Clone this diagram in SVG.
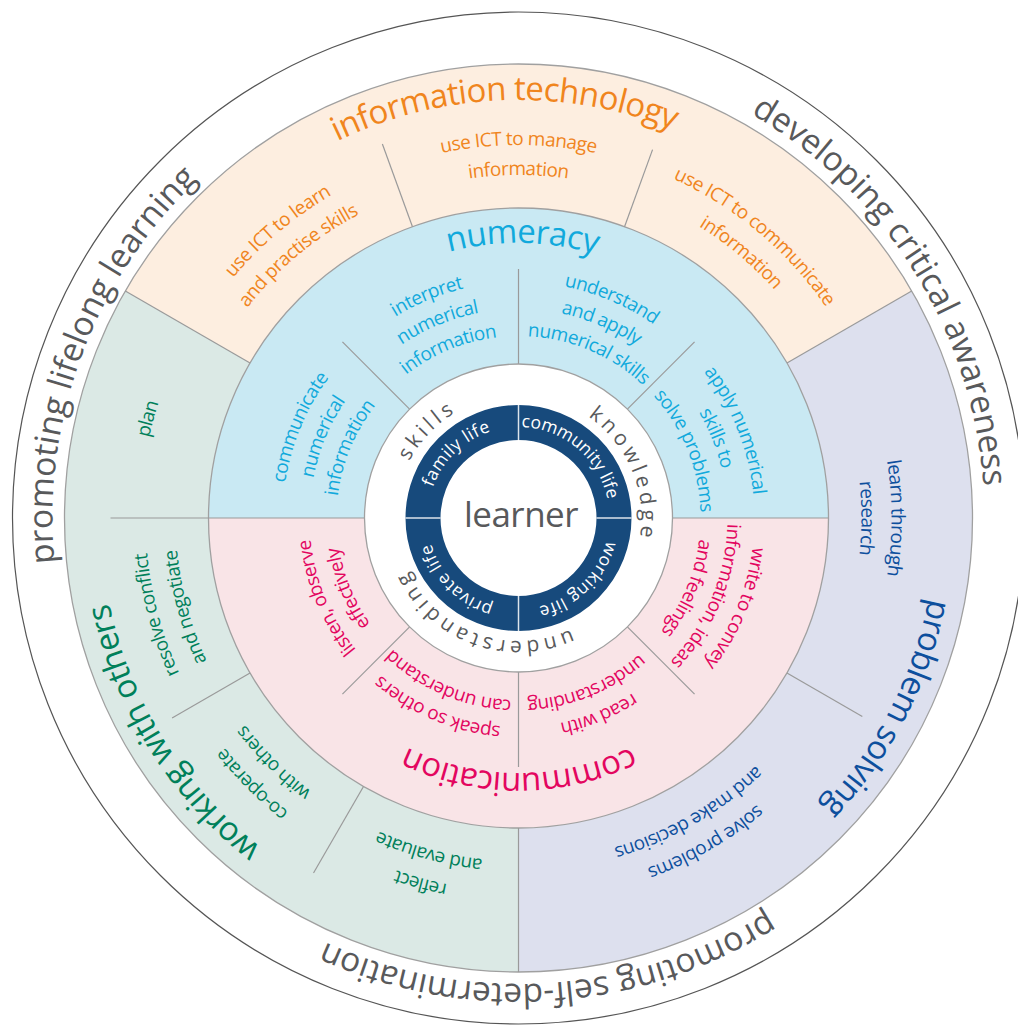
<svg xmlns="http://www.w3.org/2000/svg" width="1018" height="1025" viewBox="0 0 1018 1025">
<style>
text{font-family:"Open Sans","Noto Sans","DejaVu Sans",sans-serif;text-anchor:middle}
.outer{font-size:33.5px;fill:#58595b}
.title{font-size:33px;letter-spacing:-0.65px}
.lbl{font-size:19px;letter-spacing:-0.5px}
.ring{font-size:21px;fill:#58595b;letter-spacing:4px}
.life{font-size:17.5px;fill:#ffffff;letter-spacing:0.5px}
.or{fill:#f0851d}.cy{fill:#11a9dc}.mg{fill:#e3065f}.gr{fill:#00805a}.bl{fill:#0d4f9d}
.div line{stroke:#9a9a9a;stroke-width:1.2}
.edge{fill:none;stroke:#a0a0a0;stroke-width:1.3}
</style>
<defs>
<path id="c466" d="M0,466A466,466 0 1 1 0,-466A466,466 0 1 1 0,466"/>
<path id="c418" d="M0,418A418,418 0 1 1 0,-418A418,418 0 1 1 0,418"/>
<path id="c378" d="M0,378A378,378 0 1 1 0,-378A378,378 0 1 1 0,378"/>
<path id="c373" d="M0,373A373,373 0 1 1 0,-373A373,373 0 1 1 0,373"/>
<path id="c343" d="M0,343A343,343 0 1 1 0,-343A343,343 0 1 1 0,343"/>
<path id="c275" d="M0,275A275,275 0 1 1 0,-275A275,275 0 1 1 0,275"/>
<path id="c255" d="M0,255A255,255 0 1 1 0,-255A255,255 0 1 1 0,255"/>
<path id="c236" d="M0,236A236,236 0 1 1 0,-236A236,236 0 1 1 0,236"/>
<path id="c209" d="M0,209A209,209 0 1 1 0,-209A209,209 0 1 1 0,209"/>
<path id="c182" d="M0,182A182,182 0 1 1 0,-182A182,182 0 1 1 0,182"/>
<path id="c123" d="M0,123A123,123 0 1 1 0,-123A123,123 0 1 1 0,123"/>
<path id="c91" d="M0,91A91,91 0 1 1 0,-91A91,91 0 1 1 0,91"/>
</defs>
<rect width="1018" height="1025" fill="#ffffff"/>

<g id="outer-ring">
<circle cx="518.5" cy="518" r="506" fill="#ffffff" stroke="#555555" stroke-width="1.2"/>
<text class="outer" transform="translate(518.5 518) rotate(-69.5)"><textPath href="#c466" startOffset="50%">promoting lifelong learning</textPath></text>
<text class="outer" transform="translate(518.5 518) rotate(58)"><textPath href="#c466" startOffset="50%">developing critical awareness</textPath></text>
<text class="outer" transform="translate(518.5 518) rotate(-183.9)"><textPath href="#c466" startOffset="50%">promoting self-determination</textPath></text>
</g>

<g id="information-technology">
<path d="M911.68,291A454,454 0 0 0 125.32,291L250.03,363A310,310 0 0 1 786.97,363Z" fill="#fdeee0"/>
<text class="title or" transform="translate(518.5 518) rotate(-2)"><textPath href="#c418" startOffset="50%">information technology</textPath></text>
<text class="lbl or" transform="translate(518.5 518) rotate(-40)"><textPath href="#c373" startOffset="50%">use ICT to learn</textPath></text>
<text class="lbl or" transform="translate(518.5 518) rotate(-40)"><textPath href="#c343" startOffset="50%">and practise skills</textPath></text>
<text class="lbl or" transform="translate(518.5 518)"><textPath href="#c373" startOffset="50%">use ICT to manage</textPath></text>
<text class="lbl or" transform="translate(518.5 518)"><textPath href="#c343" startOffset="50%">information</textPath></text>
<text class="lbl or" transform="translate(518.5 518) rotate(40)"><textPath href="#c373" startOffset="50%">use ICT to communicate</textPath></text>
<text class="lbl or" transform="translate(518.5 518) rotate(40)"><textPath href="#c343" startOffset="50%">information</textPath></text>
</g>

<g id="working-with-others">
<path d="M125.32,291A454,454 0 0 0 518.5,972L518.5,828A310,310 0 0 1 250.03,363Z" fill="#dbe9e5"/>
<text class="title gr" transform="translate(518.5 518) rotate(-121.9)"><textPath href="#c418" startOffset="50%">working with others</textPath></text>
<text class="lbl gr" transform="translate(518.5 518) rotate(-75)"><textPath href="#c378" startOffset="50%">plan</textPath></text>
<text class="lbl gr" transform="translate(518.5 518) rotate(-105)"><textPath href="#c373" startOffset="50%">resolve conflict</textPath></text>
<text class="lbl gr" transform="translate(518.5 518) rotate(-105)"><textPath href="#c343" startOffset="50%">and negotiate</textPath></text>
<text class="lbl gr" transform="translate(518.5 518) rotate(-135)"><textPath href="#c373" startOffset="50%">co-operate</textPath></text>
<text class="lbl gr" transform="translate(518.5 518) rotate(-135)"><textPath href="#c343" startOffset="50%">with others</textPath></text>
<text class="lbl gr" transform="translate(518.5 518) rotate(-165)"><textPath href="#c373" startOffset="50%">reflect</textPath></text>
<text class="lbl gr" transform="translate(518.5 518) rotate(-165)"><textPath href="#c343" startOffset="50%">and evaluate</textPath></text>
</g>

<g id="problem-solving">
<path d="M518.5,972A454,454 0 0 0 911.68,291L786.97,363A310,310 0 0 1 518.5,828Z" fill="#dde0ee"/>
<text class="title bl" transform="translate(518.5 518) rotate(-242.7)"><textPath href="#c418" startOffset="50%">problem solving</textPath></text>
<text class="lbl bl" transform="translate(518.5 518) rotate(90)"><textPath href="#c373" startOffset="50%">learn through</textPath></text>
<text class="lbl bl" transform="translate(518.5 518) rotate(90)"><textPath href="#c343" startOffset="50%">research</textPath></text>
<text class="lbl bl" transform="translate(518.5 518) rotate(-210)"><textPath href="#c373" startOffset="50%">solve problems</textPath></text>
<text class="lbl bl" transform="translate(518.5 518) rotate(-210)"><textPath href="#c343" startOffset="50%">and make decisions</textPath></text>
</g>

<g id="numeracy">
<path d="M828.5,518A310,310 0 0 0 208.5,518L364.5,518A154,154 0 0 1 672.5,518Z" fill="#c9e9f3"/>
<text class="title cy" transform="translate(518.5 518) rotate(0.8)"><textPath href="#c275" startOffset="50%">numeracy</textPath></text>
<text class="lbl cy" transform="translate(518.5 518) rotate(-67.5)"><textPath href="#c236" startOffset="50%">communicate</textPath></text>
<text class="lbl cy" transform="translate(518.5 518) rotate(-67.5)"><textPath href="#c209" startOffset="50%">numerical</textPath></text>
<text class="lbl cy" transform="translate(518.5 518) rotate(-67.5)"><textPath href="#c182" startOffset="50%">information</textPath></text>
<text class="lbl cy" transform="translate(518.5 518) rotate(-22.5)"><textPath href="#c236" startOffset="50%">interpret</textPath></text>
<text class="lbl cy" transform="translate(518.5 518) rotate(-22.5)"><textPath href="#c209" startOffset="50%">numerical</textPath></text>
<text class="lbl cy" transform="translate(518.5 518) rotate(-22.5)"><textPath href="#c182" startOffset="50%">information</textPath></text>
<text class="lbl cy" transform="translate(518.5 518) rotate(23)"><textPath href="#c236" startOffset="50%">understand</textPath></text>
<text class="lbl cy" transform="translate(518.5 518) rotate(23)"><textPath href="#c209" startOffset="50%">and apply</textPath></text>
<text class="lbl cy" transform="translate(518.5 518) rotate(23)"><textPath href="#c182" startOffset="50%">numerical skills</textPath></text>
<text class="lbl cy" transform="translate(518.5 518) rotate(68)"><textPath href="#c236" startOffset="50%">apply numerical</textPath></text>
<text class="lbl cy" transform="translate(518.5 518) rotate(68)"><textPath href="#c209" startOffset="50%">skills to</textPath></text>
<text class="lbl cy" transform="translate(518.5 518) rotate(68)"><textPath href="#c182" startOffset="50%">solve problems</textPath></text>
</g>

<g id="communication">
<path d="M208.5,518A310,310 0 0 0 828.5,518L672.5,518A154,154 0 0 1 364.5,518Z" fill="#f9e4e7"/>
<text class="title mg" transform="translate(518.5 518) rotate(-180.2)"><textPath href="#c255" startOffset="50%">communication</textPath></text>
<text class="lbl mg" transform="translate(518.5 518) rotate(-112.5)"><textPath href="#c209" startOffset="50%">listen, observe</textPath></text>
<text class="lbl mg" transform="translate(518.5 518) rotate(-112.5)"><textPath href="#c182" startOffset="50%">effectively</textPath></text>
<text class="lbl mg" transform="translate(518.5 518) rotate(-157)"><textPath href="#c209" startOffset="50%">speak so others</textPath></text>
<text class="lbl mg" transform="translate(518.5 518) rotate(-157)"><textPath href="#c182" startOffset="50%">can understand</textPath></text>
<text class="lbl mg" transform="translate(518.5 518) rotate(-202.3)"><textPath href="#c209" startOffset="50%">read with</textPath></text>
<text class="lbl mg" transform="translate(518.5 518) rotate(-202.3)"><textPath href="#c182" startOffset="50%">understanding</textPath></text>
<text class="lbl mg" transform="translate(518.5 518) rotate(-247.5)"><textPath href="#c236" startOffset="50%">write to convey</textPath></text>
<text class="lbl mg" transform="translate(518.5 518) rotate(-247.5)"><textPath href="#c209" startOffset="50%">information, ideas</textPath></text>
<text class="lbl mg" transform="translate(518.5 518) rotate(-247.5)"><textPath href="#c182" startOffset="50%">and feelings</textPath></text>
</g>

<g id="edges">
<circle class="edge" cx="518.5" cy="518" r="454"/>
<circle class="edge" cx="518.5" cy="518" r="310"/>
</g>

<g id="connectors" class="div">
<line x1="786.97" y1="363" x2="911.68" y2="291"/>
<line x1="250.03" y1="363" x2="125.32" y2="291"/>
<line x1="518.5" y1="828" x2="518.5" y2="972"/>
<line x1="624.53" y1="226.7" x2="652.57" y2="149.64"/>
<line x1="412.47" y1="226.7" x2="382.38" y2="144"/>
<line x1="364.5" y1="518" x2="110.5" y2="518"/>
<line x1="250.03" y1="673" x2="172.09" y2="718"/>
<line x1="363.5" y1="786.47" x2="313.5" y2="873.07"/>
<line x1="786.97" y1="673" x2="862.31" y2="716.5"/>
<line x1="672.5" y1="518" x2="828.5" y2="518"/>
<line x1="627.39" y1="409.11" x2="694.57" y2="341.93"/>
<line x1="518.5" y1="364" x2="518.5" y2="269"/>
<line x1="409.61" y1="409.11" x2="342.43" y2="341.93"/>
<line x1="409.61" y1="626.89" x2="342.43" y2="694.07"/>
<line x1="518.5" y1="672" x2="518.5" y2="767"/>
<line x1="627.39" y1="626.89" x2="694.57" y2="694.07"/>
</g>

<g id="core-ring">
<circle cx="518.5" cy="518" r="154" fill="#ffffff" stroke="#a0a0a0" stroke-width="1.3"/>
<text class="ring" transform="translate(518.5 518) rotate(-46.1)"><textPath href="#c123" startOffset="50%">skills</textPath></text>
<text class="ring" transform="translate(518.5 518) rotate(67.5)"><textPath href="#c123" startOffset="50%">knowledge</textPath></text>
<text class="ring" transform="translate(518.5 518) rotate(-159.7)"><textPath href="#c123" startOffset="50%">understanding</textPath></text>
</g>

<g id="life-ring">
<circle cx="518.5" cy="518" r="95.5" fill="none" stroke="#174a7c" stroke-width="35"/>
<g stroke="#ffffff" stroke-width="1.5" opacity="0.85">
<line x1="596.5" y1="518" x2="631.5" y2="518"/>
<line x1="405.5" y1="518" x2="440.5" y2="518"/>
<line x1="518.5" y1="405" x2="518.5" y2="440"/>
<line x1="518.5" y1="596" x2="518.5" y2="631"/>
</g>
<text class="life" transform="translate(518.5 518) rotate(-44)"><textPath href="#c91" startOffset="50%">family life</textPath></text>
<text class="life" transform="translate(518.5 518) rotate(40)" style="letter-spacing:0"><textPath href="#c91" startOffset="50%">community life</textPath></text>
<text class="life" transform="translate(518.5 518) rotate(-224)"><textPath href="#c91" startOffset="50%">working life</textPath></text>
<text class="life" transform="translate(518.5 518) rotate(-135)"><textPath href="#c91" startOffset="50%">private life</textPath></text>
</g>

<g id="learner">
<text x="521" y="527" font-size="35" fill="#58595b" letter-spacing="-0.5">learner</text>
</g>
</svg>
